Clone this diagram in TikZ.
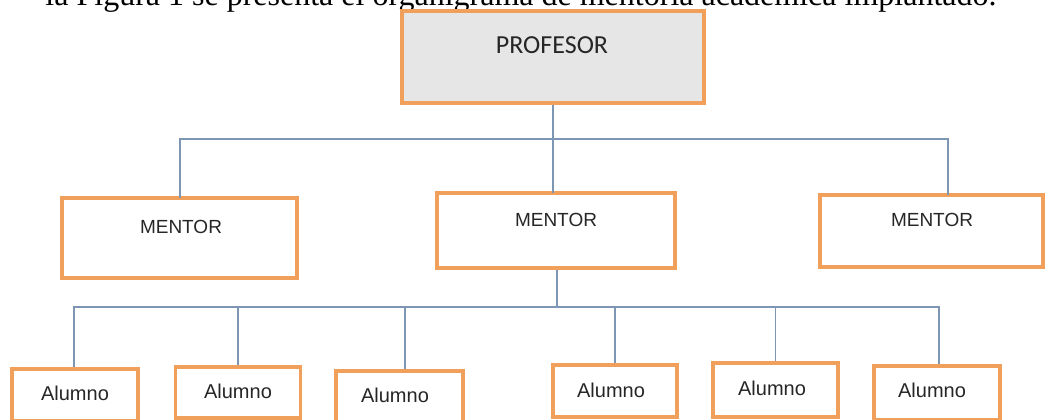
\documentclass[tikz,border=0pt]{standalone}
\usepackage{fontspec}
\setmainfont{Liberation Serif}
\newfontfamily\arialf{Liberation Sans}
\newfontfamily\calib{Carlito}
\definecolor{boxorange}{RGB}{240,160,90}
\definecolor{boxgray}{RGB}{230,230,230}
\definecolor{linkblue}{RGB}{125,150,180}
\begin{document}
\begin{tikzpicture}[x=1pt,y=-1pt,
  orgbox/.style={draw=boxorange,line width=3.6pt,rectangle,inner sep=0pt},
  mlabel/.style={font=\arialf\fontsize{19}{22}\selectfont,text=black!85,inner sep=0pt},
  alabel/.style={font=\arialf\fontsize{20}{24}\selectfont,text=black!85,inner sep=0pt},
  link/.style={draw=linkblue,line width=1.6pt}]
\useasboundingbox (0,0) rectangle (1049,420);
\clip (0,0) rectangle (1049,420);
\fill[white] (0,0) rectangle (1049,420);
% cut-off caption line
\node[anchor=base,inner sep=0pt,font=\fontsize{32}{38}\selectfont] (cap) at (521,5.5) {la Figura 1 se presenta el organigrama de mentoría académica implantado.};
% profesor
\node[orgbox,fill=boxgray,minimum width=302pt,minimum height=92pt] (p) at (553,57) {};
\node[inner sep=0pt,font=\calib\fontsize{26}{30}\selectfont,text=black!85] (pt) at (552,45) {PROFESOR};
% mentors
\node[orgbox,minimum width=235pt,minimum height=80pt] (m1) at (179.5,238) {};
\node[orgbox,minimum width=238pt,minimum height=75pt] (m2) at (556,230.5) {};
\node[orgbox,minimum width=223pt,minimum height=72pt] (m3) at (931.5,231) {};
\node[mlabel] (m1t) at (181,227) {MENTOR};
\node[mlabel] (m2t) at (556,220) {MENTOR};
\node[mlabel] (m3t) at (932,220) {MENTOR};
% alumnos
\node[orgbox,minimum width=126pt,minimum height=52pt] (a1) at (75,395) {};
\node[orgbox,minimum width=125pt,minimum height=51pt] (a2) at (238,392.5) {};
\node[orgbox,minimum width=127pt,minimum height=52pt] (a3) at (399.5,397) {};
\node[orgbox,minimum width=124pt,minimum height=52pt] (a4) at (615,391) {};
\node[orgbox,minimum width=125pt,minimum height=54pt] (a5) at (775.5,390) {};
\node[orgbox,minimum width=126pt,minimum height=54pt] (a6) at (937,393) {};
\node[alabel] (a1t) at (75,393) {Alumno};
\node[alabel] (a2t) at (238,391) {Alumno};
\node[alabel] (a3t) at (395,395) {Alumno};
\node[alabel] (a4t) at (611,390) {Alumno};
\node[alabel] (a5t) at (772,388) {Alumno};
\node[alabel] (a6t) at (932,390) {Alumno};
% junctions
\coordinate (j1) at (553,139);
\coordinate (j2) at (557,307);
\coordinate (t1) at (180,198);
\coordinate (t2) at (553,193);
\coordinate (t3) at (948,195);
\coordinate (s1) at (74,367);
\coordinate (s3) at (405,369);
\coordinate (s6) at (939,364);
% connectors
\draw[link] (p.south) -- (j1);
\draw[link] (j1) -| (t1);
\draw[link] (j1) -- (t2);
\draw[link] (j1) -| (t3);
\draw[link] (m2.south -| j2) -- (j2);
\draw[link] (j2) -| (s1);
\draw[link] (j2) -| (a2.north);
\draw[link] (j2) -| (s3);
\draw[link] (j2) -| (a4.north);
\draw[link] (j2) -| (a5.north);
\draw[link] (j2) -| (s6);
\end{tikzpicture}
\end{document}
